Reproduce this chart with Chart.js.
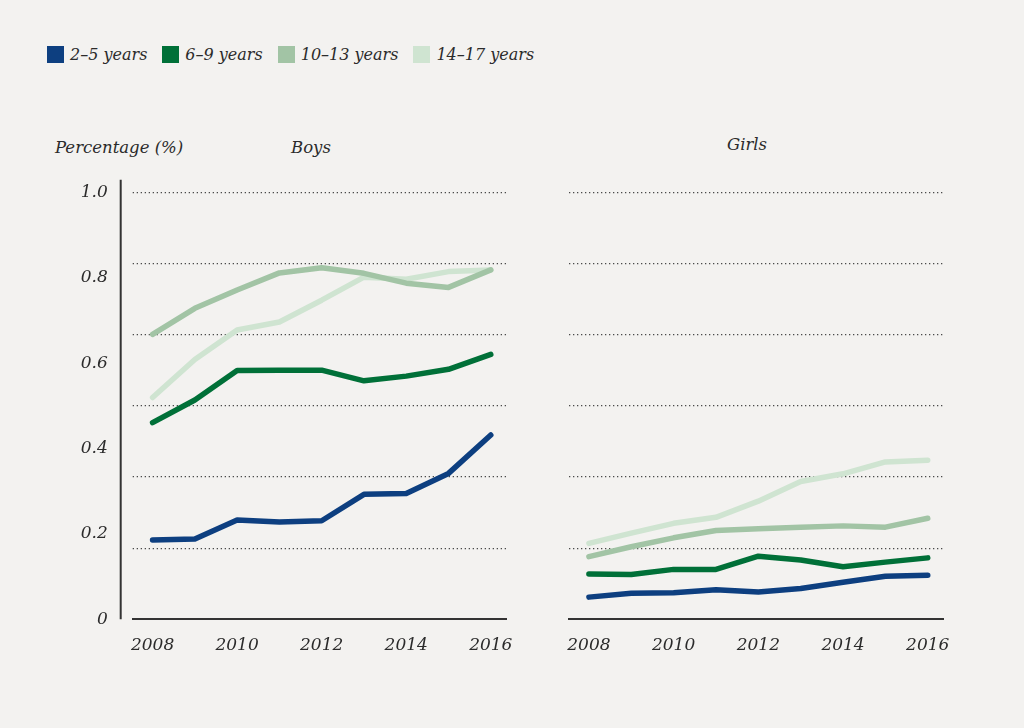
<!DOCTYPE html>
<html>
<head>
<meta charset="utf-8">
<script src="https://cdn.jsdelivr.net/npm/chart.js@4.4.1/dist/chart.umd.min.js"></script>
<style>
  html, body { margin: 0; padding: 0; background: #f3f2f0; }
  body { width: 1024px; height: 728px; position: relative; overflow: hidden;
         font-family: "DejaVu Serif", "Liberation Serif", serif; font-style: italic; color: #2b2b2b; }
  .legend { position: absolute; left: 47px; top: 45px; display: flex; align-items: center; font-size: 16px; }
  .legend .item { display: flex; align-items: center; margin-right: 15px; }
  .legend .box { width: 17px; height: 17px; margin-right: 6px; }
  .lbl { position: absolute; font-size: 16.5px; line-height: 1; }
  canvas { position: absolute; }
</style>
</head>
<body>
<div class="legend" id="legend"></div>
<div class="lbl" style="left:55px; top:140px;">Percentage (%)</div>
<div class="lbl" id="tBoys" style="left:291px; top:140px;">Boys</div>
<div class="lbl" id="tGirls" style="left:727px; top:137px;">Girls</div>
<canvas id="boys" style="left:0px; top:170px;" width="520" height="510"></canvas>
<canvas id="girls" style="left:540px; top:170px;" width="420" height="510"></canvas>
<script>
const years = [2008, 2009, 2010, 2011, 2012, 2013, 2014, 2015, 2016];
const tickYears = [2008, 2010, 2012, 2014, 2016];
const seriesNames = ["2–5 years", "6–9 years", "10–13 years", "14–17 years"];
const seriesColors = ["#0d3f80", "#007038", "#a2c4a5", "#cfe4d1"];
const yTicks = [0, 0.2, 0.4, 0.6, 0.8, 1.0];

const boys2to5   = [0.186, 0.188, 0.233, 0.228, 0.231, 0.293, 0.295, 0.342, 0.432];
const boys6to9   = [0.461, 0.514, 0.583, 0.584, 0.584, 0.559, 0.570, 0.586, 0.621];
const boys10to13 = [0.668, 0.729, 0.772, 0.812, 0.824, 0.811, 0.788, 0.778, 0.819];
const boys14to17 = [0.520, 0.609, 0.678, 0.697, 0.748, 0.802, 0.797, 0.815, 0.819];

const girls2to5   = [0.052, 0.061, 0.062, 0.069, 0.064, 0.072, 0.087, 0.101, 0.103];
const girls6to9   = [0.106, 0.105, 0.117, 0.117, 0.148, 0.139, 0.123, 0.134, 0.144];
const girls10to13 = [0.147, 0.170, 0.191, 0.208, 0.212, 0.216, 0.219, 0.216, 0.237];
const girls14to17 = [0.178, 0.202, 0.225, 0.239, 0.277, 0.323, 0.341, 0.369, 0.373];

// legend
const leg = document.getElementById('legend');
seriesNames.forEach((n, i) => {
  const it = document.createElement('div'); it.className = 'item';
  const b = document.createElement('div'); b.className = 'box'; b.style.background = seriesColors[i];
  const t = document.createElement('span'); t.textContent = n;
  it.appendChild(b); it.appendChild(t); leg.appendChild(it);
});

const FONT = { family: '"DejaVu Serif", "Liberation Serif", serif', style: 'italic', size: 17 };
const TXT = '#2b2b2b';

function makeDatasets(arrs) {
  return arrs.map((a, i) => ({
    label: seriesNames[i],
    data: years.map((y, k) => ({ x: y, y: a[k] })),
    borderColor: seriesColors[i],
    backgroundColor: seriesColors[i],
    borderWidth: 5.5,
    pointRadius: 0,
    tension: 0,
    borderCapStyle: 'round',
    borderJoinStyle: 'round',
    order: i
  }));
}

const yAxisLine = {
  id: 'yAxisLine',
  afterDraw(chart, args, opts) {
    if (!opts.show) return;
    const y = chart.scales.y;
    const ca = chart.chartArea;
    const ctx = chart.ctx;
    ctx.save();
    ctx.strokeStyle = '#333';
    ctx.lineWidth = 2;
    ctx.beginPath();
    const x = ca.left - 12;
    ctx.moveTo(x, y.getPixelForValue(1.0) - 13);
    ctx.lineTo(x, y.getPixelForValue(0));
    ctx.stroke();
    ctx.restore();
  }
};

function zeroPad(s) { s.paddingTop = 0; s.paddingBottom = 0; s.paddingLeft = 0; s.paddingRight = 0; }

function makeChart(id, arrs, showY, padLeft, padRight) {
  return new Chart(document.getElementById(id), {
    type: 'line',
    data: { datasets: makeDatasets(arrs) },
    plugins: [yAxisLine],
    options: {
      responsive: false,
      animation: false,
      layout: { autoPadding: false, padding: { left: padLeft, right: padRight, top: 22.7, bottom: 0 } },
      plugins: {
        legend: { display: false },
        tooltip: { enabled: false },
        yAxisLine: { show: showY }
      },
      scales: {
        x: {
          type: 'linear',
          min: 2007.53,
          max: 2016.36,
          afterBuildTicks: s => { s.ticks = tickYears.map(v => ({ value: v })); },
          afterFit: s => { s.height = 60.7; zeroPad(s); },
          grid: { display: false, drawTicks: false },
          border: { display: true, color: '#333', width: 2 },
          ticks: { font: FONT, color: TXT, padding: 16, maxRotation: 0, autoSkip: false,
                   callback: v => String(v) }
        },
        y: {
          display: showY,
          min: 0, max: 1,
          position: 'left',
          afterBuildTicks: s => { s.ticks = yTicks.map(v => ({ value: v })); },
          afterFit: s => { s.width = showY ? 132.7 : 0; zeroPad(s); },
          grid: { display: false, drawTicks: false },
          border: { display: false },
          ticks: { font: FONT, color: TXT, padding: 25,
                   callback: v => v === 0 ? '0' : v.toFixed(1) }
        },
        y2: {
          position: 'right',
          min: 0, max: 6,
          afterBuildTicks: s => { s.ticks = [1, 2, 3, 4, 5, 6].map(v => ({ value: v })); },
          afterFit: s => { s.width = 0; zeroPad(s); },
          ticks: { display: false },
          grid: { display: true, drawTicks: false, color: '#4a4a4a', lineWidth: 1.3 },
          border: { display: false, dash: [1.3, 2.7] }
        }
      }
    }
  });
}

makeChart('boys', [boys2to5, boys6to9, boys10to13, boys14to17], true, 0, 14);
makeChart('girls', [girls2to5, girls6to9, girls10to13, girls14to17], false, 29, 17);
</script>
</body>
</html>
